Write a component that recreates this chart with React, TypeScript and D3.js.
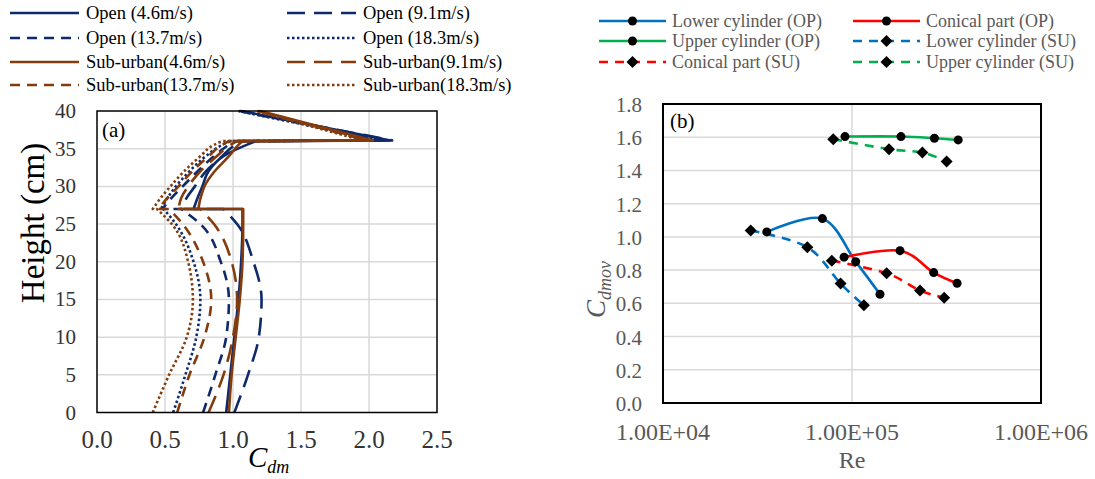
import React from 'react';
import * as d3 from 'd3';

type Pt = [number, number];

// ---------- Panel (a) data ----------
const cdmTicks = [0, 0.5, 1, 1.5, 2, 2.5];
const heightTicks = [0, 5, 10, 15, 20, 25, 30, 35, 40];
const lowerH = [0, 5, 10, 15, 20, 25, 27];
const coneH = [27, 28.5, 30, 32, 34, 35.5, 36];

const seriesNames = [
  'Open (4.6m/s)', 'Open (9.1m/s)', 'Open (13.7m/s)', 'Open (18.3m/s)',
  'Sub-urban(4.6m/s)', 'Sub-urban(9.1m/s)', 'Sub-urban(13.7m/s)', 'Sub-urban(18.3m/s)',
];
// Cdm on lower cylinder at lowerH
const lowerCdm = [
  [0.95, 0.98, 1.01, 1.04, 1.06, 1.07, 1.07],
  [1.01, 1.11, 1.19, 1.21, 1.15, 1.03, 0.93],
  [0.78, 0.87, 0.95, 0.97, 0.91, 0.76, 0.62],
  [0.56, 0.65, 0.73, 0.76, 0.71, 0.58, 0.49],
  [0.97, 0.99, 1.02, 1.05, 1.07, 1.075, 1.075],
  [0.82, 0.93, 1.0, 1.03, 0.99, 0.86, 0.76],
  [0.59, 0.68, 0.79, 0.84, 0.78, 0.63, 0.53],
  [0.41, 0.53, 0.66, 0.705, 0.67, 0.55, 0.44],
];
// leftmost value at the 27 cm junction
const kneeCdm = [0.71, 0.62, 0.48, 0.47, 0.6, 0.6, 0.45, 0.41];
// Cdm on conical part at coneH
const coneCdm = [
  [0.71, 0.74, 0.775, 0.82, 0.93, 1.1, 1.17],
  [0.62, 0.66, 0.72, 0.8, 0.92, 1.02, 1.08],
  [0.48, 0.55, 0.63, 0.74, 0.86, 0.97, 1.02],
  [0.47, 0.52, 0.58, 0.68, 0.8, 0.92, 0.98],
  [0.745, 0.762, 0.79, 0.865, 0.97, 1.04, 1.07],
  [0.6, 0.62, 0.67, 0.76, 0.88, 0.98, 1.03],
  [0.45, 0.52, 0.6, 0.7, 0.82, 0.92, 0.97],
  [0.41, 0.47, 0.54, 0.64, 0.76, 0.86, 0.92],
];
const peakCdm = [2.15, 2.17, 2.12, 2.08, 2.03, 2.0, 1.98, 1.95];
const topCdm = [1.06, 1.05, 1.05, 1.04, 1.2, 1.19, 1.18, 1.17];
const peakH = 36.1;
const topH = 40;

// ---------- Panel (b) data ----------
const reTicks = [1e4, 1e5, 1e6];
const reTickLabels = ['1.00E+04', '1.00E+05', '1.00E+06'];
const cdmovTicks = [0, 0.2, 0.4, 0.6, 0.8, 1.0, 1.2, 1.4, 1.6, 1.8];

const reLowerOP = [35400, 69700, 104600, 140600];
const cdLowerOP = [1.03, 1.11, 0.851, 0.655];
const reConicalOP = [90800, 179500, 270500, 359700];
const cdConicalOP = [0.878, 0.917, 0.785, 0.721];
const reUpperOP = [91800, 181600, 272900, 364600];
const cdUpperOP = [1.604, 1.604, 1.594, 1.584];
const reLowerSU = [29100, 58000, 87000, 115600];
const cdLowerSU = [1.038, 0.938, 0.719, 0.588];
const reConicalSU = [78200, 152500, 229000, 307400];
const cdConicalSU = [0.857, 0.781, 0.677, 0.634];
const reUpperSU = [79600, 157000, 235700, 316700];
const cdUpperSU = [1.588, 1.528, 1.508, 1.454];

const BLUE_A = '#0E2A6B';
const BROWN_A = '#843C0C';
const styleA = [
  { c: BLUE_A, d: '' }, { c: BLUE_A, d: '18,9' }, { c: BLUE_A, d: '10,7' }, { c: BLUE_A, d: '2.5,2.5' },
  { c: BROWN_A, d: '' }, { c: BROWN_A, d: '18,9' }, { c: BROWN_A, d: '10,7' }, { c: BROWN_A, d: '2.5,2.5' },
];

const serif = '"Liberation Serif", "Times New Roman", serif';
const GRAY = '#595959';

export default function App() {
  // Panel (a) scales
  const xa = d3.scaleLinear().domain([0, 2.5]).range([97, 437]);
  const ya = d3.scaleLinear().domain([0, 40]).range([412.5, 111]);

  const smooth = d3.line<Pt>().x(p => xa(p[0])).y(p => ya(p[1])).curve(d3.curveMonotoneY);
  const pathA = (i: number) => {
    const lower: Pt[] = lowerH.map((h, k) => [lowerCdm[i][k], h]);
    const cone: Pt[] = coneH.map((h, k) => [coneCdm[i][k], h]);
    let d = smooth(lower) || '';
    d += `L${xa(kneeCdm[i])},${ya(27)}`;
    d += (smooth(cone) || '').replace(/^M/, 'L');
    d += `L${xa(peakCdm[i])},${ya(peakH)}`;
    d += `L${xa(topCdm[i])},${ya(topH)}`;
    return d;
  };

  // Panel (b) scales
  const xb = d3.scaleLog().domain([1e4, 1e6]).range([663, 1041]);
  const yb = d3.scaleLinear().domain([0, 1.8]).range([403, 104]);
  const lineB = d3.line<Pt>().x(p => xb(p[0])).y(p => yb(p[1])).curve(d3.curveCardinal.tension(0));
  const zip = (a: number[], b: number[]): Pt[] => a.map((v, i) => [v, b[i]]);
  const seriesB = [
    { name: 'Lower cylinder (OP)', pts: zip(reLowerOP, cdLowerOP), c: '#0070C0', dash: '', m: 'c' },
    { name: 'Conical part (OP)', pts: zip(reConicalOP, cdConicalOP), c: '#FF0000', dash: '', m: 'c' },
    { name: 'Upper cylinder (OP)', pts: zip(reUpperOP, cdUpperOP), c: '#00B050', dash: '', m: 'c' },
    { name: 'Lower cylinder (SU)', pts: zip(reLowerSU, cdLowerSU), c: '#0070C0', dash: '9,7', m: 'd' },
    { name: 'Conical part (SU)', pts: zip(reConicalSU, cdConicalSU), c: '#FF0000', dash: '9,7', m: 'd' },
    { name: 'Upper cylinder (SU)', pts: zip(reUpperSU, cdUpperSU), c: '#00B050', dash: '9,7', m: 'd' },
  ];
  const marker = (m: string, x: number, y: number, key: string) =>
    m === 'c' ? (
      <circle key={key} cx={x} cy={y} r={4.5} fill="#000" />
    ) : (
      <path key={key} d={`M${x},${y - 6}L${x + 6},${y}L${x},${y + 6}L${x - 6},${y}Z`} fill="#000" />
    );

  const legendA = seriesNames.map((n, i) => {
    const col = i % 2;
    const row = Math.floor(i / 2);
    return { n, i, x: col === 0 ? 10 : 287, y: [13, 38, 62, 85][row] };
  });
  const legendB = seriesB.map((s, i) => {
    const col = i % 2;
    const row = Math.floor(i / 2);
    return { s, x: col === 0 ? 599 : 853, y: [21, 41, 62][row] };
  });

  return (
    <svg width={1095} height={479} style={{ position: 'absolute', left: 0, top: 0, background: '#fff' }}
      fontFamily={serif}>
      <rect x={0} y={0} width={1095} height={479} fill="#fff" />
      {/* ---------- Panel (a) ---------- */}
      <g>
        {cdmTicks.slice(1, -1).map(t => (
          <line key={'gx' + t} x1={xa(t)} x2={xa(t)} y1={ya(0)} y2={ya(40)} stroke="#d9d9d9" strokeWidth={1.5} />
        ))}
        {heightTicks.slice(1, -1).map(t => (
          <line key={'gy' + t} x1={xa(0)} x2={xa(2.5)} y1={ya(t)} y2={ya(t)} stroke="#d9d9d9" strokeWidth={1.5} />
        ))}
        {seriesNames.map((n, i) => (
          <path key={n} d={pathA(i)} fill="none" stroke={styleA[i].c} strokeWidth={2.6}
            strokeDasharray={styleA[i].d || undefined} strokeLinejoin="round" />
        ))}
        <rect x={xa(0)} y={ya(40)} width={xa(2.5) - xa(0)} height={ya(0) - ya(40)} fill="none" stroke="#000" strokeWidth={1.5} />
        {cdmTicks.map(t => (
          <text key={'tx' + t} x={xa(t)} y={448} fontSize={25} textAnchor="middle" fill="#333">{t.toFixed(1)}</text>
        ))}
        {heightTicks.map(t => (
          <text key={'ty' + t} x={76} y={ya(t) + 7} fontSize={21} textAnchor="end" fill="#333">{t}</text>
        ))}
        <text x={102} y={137} fontSize={21} fill="#000">(a)</text>
        <text transform="translate(44,223) rotate(-90)" fontSize={33} textAnchor="middle" fill="#000">Height (cm)</text>
        <text x={248} y={467} fontStyle="italic" fontSize={29} fill="#000">C<tspan fontSize={18} dy={6}>dm</tspan></text>
        {legendA.map(l => (
          <g key={'la' + l.i}>
            <line x1={l.x} x2={l.x + 69} y1={l.y} y2={l.y} stroke={styleA[l.i].c} strokeWidth={2.6}
              strokeDasharray={styleA[l.i].d || undefined} />
            <text x={l.x + 76} y={l.y + 6} fontSize={18.5} fill="#000">{l.n}</text>
          </g>
        ))}
      </g>

      {/* ---------- Panel (b) ---------- */}
      <g>
        {cdmovTicks.slice(1, -1).map(t => (
          <line key={'gby' + t} x1={xb(1e4)} x2={xb(1e6)} y1={yb(t)} y2={yb(t)} stroke="#d9d9d9" strokeWidth={1.5} />
        ))}
        <line x1={xb(1e5)} x2={xb(1e5)} y1={yb(0)} y2={yb(1.8)} stroke="#d9d9d9" strokeWidth={1.5} />
        {seriesB.map(s => (
          <path key={s.name} d={lineB(s.pts) || ''} fill="none" stroke={s.c} strokeWidth={2.6}
            strokeDasharray={s.dash || undefined} />
        ))}
        {seriesB.map(s => s.pts.map((p, k) => marker(s.m, xb(p[0]), yb(p[1]), s.name + k)))}
        <rect x={xb(1e4)} y={yb(1.8)} width={xb(1e6) - xb(1e4)} height={yb(0) - yb(1.8)} fill="none" stroke="#000" strokeWidth={2} />
        {reTicks.map((t, i) => (
          <text key={'bx' + t} x={xb(t)} y={440} fontSize={24} textAnchor="middle" fill={GRAY}>{reTickLabels[i]}</text>
        ))}
        {cdmovTicks.map(t => (
          <text key={'by' + t} x={642} y={yb(t) + 8} fontSize={21} textAnchor="end" fill={GRAY}>{t.toFixed(1)}</text>
        ))}
        <text x={xb(1e5)} y={468} fontSize={24} textAnchor="middle" fill={GRAY}>Re</text>
        <text x={670} y={128} fontSize={21} fill="#000">(b)</text>
        <text transform="translate(605,318) rotate(-90)" fontStyle="italic" fontSize={27} fill={GRAY}>C<tspan fontSize={18} dy={6}>dmov</tspan></text>
        {legendB.map((l, i) => (
          <g key={'lb' + i}>
            <line x1={l.x} x2={l.x + 67} y1={l.y} y2={l.y} stroke={l.s.c} strokeWidth={2.6}
              strokeDasharray={l.s.dash || undefined} />
            {marker(l.s.m, l.x + 33.5, l.y, 'lbm' + i)}
            <text x={l.x + 73} y={l.y + 6} fontSize={18} fill={GRAY}>{l.s.name}</text>
          </g>
        ))}
      </g>
    </svg>
  );
}
